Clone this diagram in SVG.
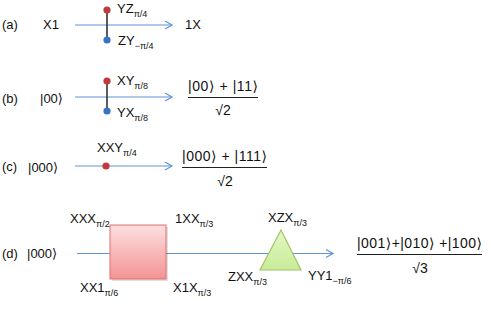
<svg xmlns="http://www.w3.org/2000/svg" width="491" height="316" viewBox="0 0 491 316">
<defs>
<style>
text{font-family:"Liberation Sans","DejaVu Sans",sans-serif;font-size:13px;fill:#111}
.sub{font-size:9px}
.frac{font-size:14px}
.wire{stroke:#5f93d6;stroke-width:1.2;fill:none}
.stem{stroke:#333;stroke-width:1.6}
.bar{stroke:#222;stroke-width:1}
.red{fill:#c0393b}
.blue{fill:#3a72c2}
.mid{text-anchor:middle}
</style>
<linearGradient id="gPink" x1="0" y1="0" x2="0" y2="1">
<stop offset="0" stop-color="#fde0e0"/>
<stop offset="1" stop-color="#f49393"/>
</linearGradient>
<linearGradient id="gGreen" x1="0" y1="0" x2="0" y2="1">
<stop offset="0" stop-color="#e4f7c4"/>
<stop offset="1" stop-color="#c8ec98"/>
</linearGradient>
<marker id="arr" markerWidth="10" markerHeight="10" refX="8" refY="4.5" orient="auto" markerUnits="userSpaceOnUse">
<polyline points="1,0.5 8,4.5 1,8.5" fill="none" stroke="#5f93d6" stroke-width="1.2"/>
</marker>
</defs>

<g id="connectors">
<line class="wire" x1="75" y1="25" x2="172" y2="25" marker-end="url(#arr)"/>
<line class="wire" x1="75" y1="97" x2="172" y2="97" marker-end="url(#arr)"/>
<line class="wire" x1="75" y1="166" x2="172" y2="166" marker-end="url(#arr)"/>
<line class="wire" x1="77" y1="253.5" x2="333" y2="253.5" marker-end="url(#arr)"/>
</g>

<g id="row-a">
<text x="2" y="29">(a)</text>
<text x="43" y="29">X1</text>
<text x="185" y="29">1X</text>
<line class="stem" x1="107" y1="10" x2="107" y2="40"/>
<circle class="red" cx="107" cy="10" r="3.6"/>
<circle class="blue" cx="107" cy="40" r="3.6"/>
<text x="117" y="13">YZ<tspan class="sub" dy="4">π/4</tspan></text>
<text x="118" y="45">ZY<tspan class="sub" dy="4">−π/4</tspan></text>
</g>

<g id="row-b">
<text x="2" y="103">(b)</text>
<text x="40" y="103">|00⟩</text>
<line class="stem" x1="107" y1="81" x2="107" y2="111"/>
<circle class="red" cx="107" cy="81" r="3.6"/>
<circle class="blue" cx="107" cy="111" r="3.6"/>
<text x="117" y="85">XY<tspan class="sub" dy="4">π/8</tspan></text>
<text x="117" y="117">YX<tspan class="sub" dy="4">π/8</tspan></text>
<text class="frac" x="188" y="91" textLength="70" lengthAdjust="spacing">|00⟩ + |11⟩</text>
<line class="bar" x1="188" y1="97.5" x2="258" y2="97.5"/>
<text class="frac mid" x="223" y="115">√2</text>
</g>

<g id="row-c">
<text x="2" y="171">(c)</text>
<text x="28" y="172">|000⟩</text>
<circle class="red" cx="106" cy="166" r="3.6"/>
<text x="97" y="152">XXY<tspan class="sub" dy="4">π/4</tspan></text>
<text class="frac" x="182" y="161" textLength="85" lengthAdjust="spacing">|000⟩ + |111⟩</text>
<line class="bar" x1="182" y1="167.5" x2="267" y2="167.5"/>
<text class="frac mid" x="225" y="186">√2</text>
</g>

<g id="row-d">
<text x="2" y="258">(d)</text>
<text x="27" y="258">|000⟩</text>
<text class="frac" x="357" y="248" textLength="125" lengthAdjust="spacing">|001⟩+|010⟩ +|100⟩</text>
<line class="bar" x1="357" y1="254.5" x2="482" y2="254.5"/>
<text class="frac mid" x="420" y="273">√3</text>
</g>

<g id="square-gate">
<rect x="112" y="227" width="56" height="54" fill="#000" opacity="0.12"/>
<rect x="110" y="225" width="56" height="54" fill="url(#gPink)" stroke="#e07070" stroke-width="1"/>
<text x="70" y="223">XXX<tspan class="sub" dy="4">π/2</tspan></text>
<text x="175" y="223">1XX<tspan class="sub" dy="4">π/3</tspan></text>
<text x="80" y="292">XX1<tspan class="sub" dy="4">π/6</tspan></text>
<text x="173" y="292">X1X<tspan class="sub" dy="4">π/3</tspan></text>
</g>

<g id="triangle-gate">
<polygon points="281,230 260,270 301,270" fill="url(#gGreen)" stroke="#a4c468" stroke-width="1.2"/>
<text x="268" y="222">XZX<tspan class="sub" dy="4">π/3</tspan></text>
<text x="228" y="281">ZXX<tspan class="sub" dy="4">π/3</tspan></text>
<text x="308" y="280">YY1<tspan class="sub" dy="4">−π/6</tspan></text>
</g>
</svg>
